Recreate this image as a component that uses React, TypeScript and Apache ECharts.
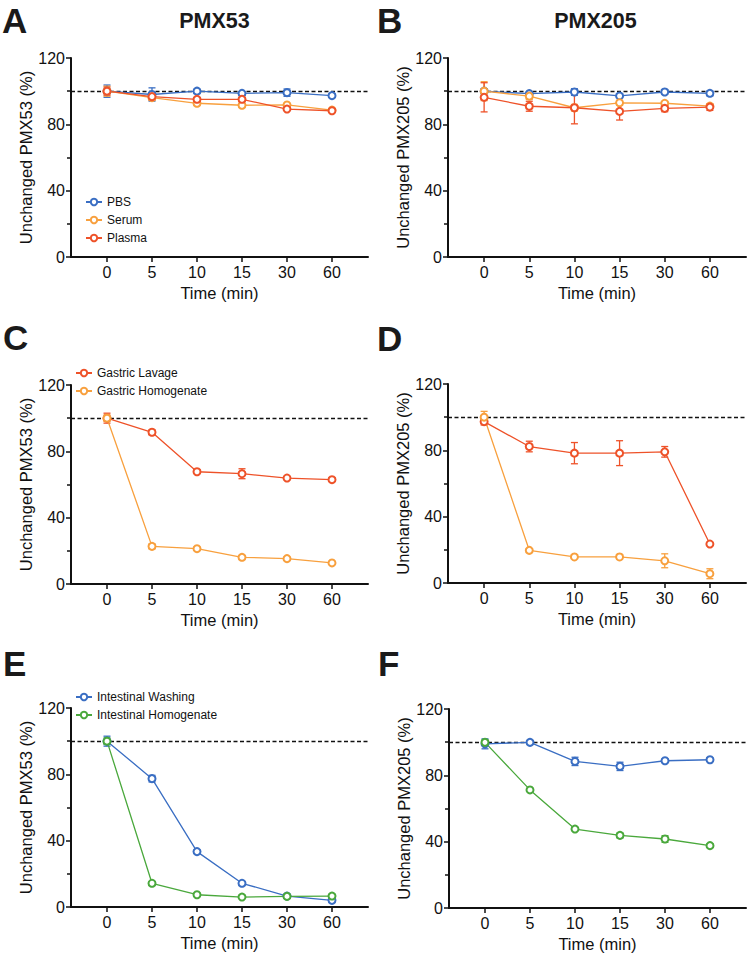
import React, { useEffect, useRef } from "react";
import * as echarts from "echarts";

// ---------- data ----------
const timeLabels = ["0", "5", "10", "15", "30", "60"];
const xIdx = [0, 1, 2, 3, 4, 5];

// Panel A: PMX53 in PBS / serum / plasma
const aPBS = [100, 98, 100, 98.7, 99.1, 97.3];
const aPBSErr = [3.7, 4, 1.2, 0.6, 2.2, 0.6];
const aSerum = [100, 96.1, 92.7, 91.5, 91.7, 88.6];
const aSerumErr = [3, 1.5, 0.6, 0.5, 0.6, 0.6];
const aPlasma = [100, 96.7, 95.1, 95.1, 89.2, 88.2];
const aPlasmaErr = [2.4, 2, 0.6, 0.6, 0.6, 0.6];

// Panel B: PMX205 in PBS / serum / plasma
const bPBS = [100, 98.5, 99.5, 97.1, 99.5, 98.7];
const bPBSErr = [1.5, 1, 2, 0.5, 1.5, 1.5];
const bSerum = [100, 97, 90, 93, 92.7, 91];
const bSerumErr = [5.7, 2, 2, 1.5, 1, 1];
const bPlasma = [96.3, 90.9, 90, 87.8, 89.6, 90.4];
const bPlasmaErr = [8.8, 3, 9.7, 5.2, 2, 2];

// Panel C: PMX53 gastric
const cLavage = [100, 91.5, 67.7, 66.5, 63.9, 62.9];
const cLavageErr = [3, 1.5, 1, 3, 1, 0.8];
const cHomog = [100, 22.7, 21.3, 16.1, 15.3, 12.7];
const cHomogErr = [2, 1.5, 0.8, 0.5, 0.5, 0.5];

// Panel D: PMX205 gastric
const dLavage = [97.3, 82.3, 78.3, 78.3, 79.1, 23.5];
const dLavageErr = [2, 3.2, 6.4, 7.5, 3.2, 1];
const dHomog = [100, 19.7, 15.7, 15.7, 13.4, 5.6];
const dHomogErr = [3.5, 1, 0.8, 1.5, 4.2, 3];

// Panel E: PMX53 intestinal
const eWashing = [100, 77.4, 33.4, 14.3, 6.6, 4];
const eWashingErr = [3, 2, 1, 0.8, 0.5, 0.5];
const eHomog = [100, 14.3, 7.4, 6, 6.4, 6.6];
const eHomogErr = [2, 1, 0.5, 0.5, 0.5, 0.5];

// Panel F: PMX205 intestinal
const fWashing = [99, 99.9, 88.4, 85.4, 88.8, 89.4];
const fWashingErr = [3, 0.5, 2.5, 2.5, 1, 0.8];
const fHomog = [99.9, 71.2, 47.6, 43.8, 41.6, 37.6];
const fHomogErr = [1.5, 0.8, 1, 1.5, 2, 1];

const baseline = 100;

// ---------- styles ----------
const BLUE = "#3a6ec3";
const ORANGE = "#f8a03e";
const RED = "#ee5229";
const GREEN = "#4aa83c";
const INK = "#111111";
const FONT = '"Liberation Sans", Arial, Helvetica, sans-serif';

type S = { name: string; color: string; values: number[]; err: number[] };
type P = {
  letter: string;
  yName: string;
  series: S[];
  legend: string[];
  layout: { left: number; top: number; width: number; height: number; letterX: number; letterY: number; legendLeft: number; legendTop: number };
};

const panels: P[] = [
  {
    letter: "A",
    yName: "Unchanged PMX53 (%)",
    series: [
      { name: "PBS", color: BLUE, values: aPBS, err: aPBSErr },
      { name: "Serum", color: ORANGE, values: aSerum, err: aSerumErr },
      { name: "Plasma", color: RED, values: aPlasma, err: aPlasmaErr },
    ],
    legend: ["PBS", "Serum", "Plasma"],
    layout: { left: 71, top: 58, width: 297, height: 199, letterX: 2, letterY: 3, legendLeft: 85, legendTop: 196 },
  },
  {
    letter: "B",
    yName: "Unchanged PMX205 (%)",
    series: [
      { name: "PBS", color: BLUE, values: bPBS, err: bPBSErr },
      { name: "Serum", color: ORANGE, values: bSerum, err: bSerumErr },
      { name: "Plasma", color: RED, values: bPlasma, err: bPlasmaErr },
    ],
    legend: [],
    layout: { left: 448, top: 58, width: 298, height: 199, letterX: 377, letterY: 3, legendLeft: 0, legendTop: 0 },
  },
  {
    letter: "C",
    yName: "Unchanged PMX53 (%)",
    series: [
      { name: "Gastric Lavage", color: RED, values: cLavage, err: cLavageErr },
      { name: "Gastric Homogenate", color: ORANGE, values: cHomog, err: cHomogErr },
    ],
    legend: ["Gastric Lavage", "Gastric Homogenate"],
    layout: { left: 71, top: 385, width: 297, height: 199, letterX: 3, letterY: 320, legendLeft: 75, legendTop: 367 },
  },
  {
    letter: "D",
    yName: "Unchanged PMX205 (%)",
    series: [
      { name: "Gastric Lavage", color: RED, values: dLavage, err: dLavageErr },
      { name: "Gastric Homogenate", color: ORANGE, values: dHomog, err: dHomogErr },
    ],
    legend: [],
    layout: { left: 448, top: 384, width: 298, height: 199, letterX: 377, letterY: 321, legendLeft: 0, legendTop: 0 },
  },
  {
    letter: "E",
    yName: "Unchanged PMX53 (%)",
    series: [
      { name: "Intestinal Washing", color: BLUE, values: eWashing, err: eWashingErr },
      { name: "Intestinal Homogenate", color: GREEN, values: eHomog, err: eHomogErr },
    ],
    legend: ["Intestinal Washing", "Intestinal Homogenate"],
    layout: { left: 71, top: 708, width: 297, height: 199, letterX: 3, letterY: 646, legendLeft: 75, legendTop: 691 },
  },
  {
    letter: "F",
    yName: "Unchanged PMX205 (%)",
    series: [
      { name: "Intestinal Washing", color: BLUE, values: fWashing, err: fWashingErr },
      { name: "Intestinal Homogenate", color: GREEN, values: fHomog, err: fHomogErr },
    ],
    legend: [],
    layout: { left: 449, top: 709, width: 297, height: 199, letterX: 378, letterY: 646, legendLeft: 0, legendTop: 0 },
  },
];

const columnTitles = [
  { text: "PMX53", x: 214.5, y: 21 },
  { text: "PMX205", x: 595.5, y: 21 },
];

function errorRender(params: any, api: any) {
  const x = api.value(0);
  const lo = api.value(1);
  const hi = api.value(2);
  const top = api.coord([x, hi]);
  const bot = api.coord([x, lo]);
  const c = api.visual("color");
  const hw = 3.5;
  const st = { stroke: c, lineWidth: 1.3 };
  return {
    type: "group",
    children: [
      { type: "line", shape: { x1: top[0], y1: top[1], x2: bot[0], y2: bot[1] }, style: st },
      { type: "line", shape: { x1: top[0] - hw, y1: top[1], x2: top[0] + hw, y2: top[1] }, style: st },
      { type: "line", shape: { x1: bot[0] - hw, y1: bot[1], x2: bot[0] + hw, y2: bot[1] }, style: st },
    ],
  };
}

function buildOption() {
  const grid: any[] = [];
  const xAxis: any[] = [];
  const yAxis: any[] = [];
  const series: any[] = [];
  const legend: any[] = [];
  const graphic: any[] = [];

  panels.forEach((p, i) => {
    const L = p.layout;
    grid.push({ left: L.left, top: L.top, width: L.width, height: L.height });
    xAxis.push({
      type: "value",
      gridIndex: i,
      min: -0.8,
      max: 5.8,
      splitLine: { show: false },
      axisLine: { show: true, onZero: false, lineStyle: { color: INK, width: 2 } },
      axisTick: { show: true, customValues: xIdx, length: 5, lineStyle: { color: INK, width: 1.5 } },
      axisLabel: {
        customValues: xIdx,
        formatter: (v: number) => timeLabels[Math.round(v)],
        color: INK,
        fontSize: 16,
        fontFamily: FONT,
        margin: 7,
      },
      name: "Time (min)",
      nameLocation: "middle",
      nameGap: 27,
      nameTextStyle: { color: INK, fontSize: 16.5, fontFamily: FONT },
    });
    yAxis.push({
      type: "value",
      gridIndex: i,
      min: 0,
      max: 120,
      interval: 40,
      splitLine: { show: false },
      axisLine: { show: true, onZero: false, lineStyle: { color: INK, width: 2 } },
      axisTick: { show: true, length: 5, lineStyle: { color: INK, width: 1.5 } },
      minorTick: { show: true, splitNumber: 2, length: 4, lineStyle: { color: INK, width: 1.5 } },
      minorSplitLine: { show: false },
      axisLabel: { color: INK, fontSize: 16, fontFamily: FONT, margin: 6 },
      name: p.yName,
      nameLocation: "middle",
      nameGap: 35,
      nameTextStyle: { color: INK, fontSize: 16.5, fontFamily: FONT },
    });

    p.series.forEach((s, k) => {
      series.push({
        type: "custom",
        xAxisIndex: i,
        yAxisIndex: i,
        silent: true,
        z: 2,
        itemStyle: { color: s.color },
        encode: { x: 0, y: [1, 2] },
        renderItem: errorRender,
        data: xIdx.map((j) => [j, s.values[j] - s.err[j], s.values[j] + s.err[j]]),
      });
      series.push({
        type: "line",
        name: s.name,
        xAxisIndex: i,
        yAxisIndex: i,
        z: 3,
        color: s.color,
        symbol: "emptyCircle",
        symbolSize: 7,
        lineStyle: { width: 1.3, color: s.color },
        itemStyle: { borderWidth: 1.4, color: s.color },
        data: xIdx.map((j) => [j, s.values[j]]),
        markLine:
          k === 0
            ? {
                silent: true,
                symbol: ["none", "none"],
                label: { show: false },
                lineStyle: { color: INK, type: [4, 2.5], width: 1.3 },
                data: [{ yAxis: baseline }],
                z: 1,
              }
            : undefined,
      });
    });

    if (p.legend.length) {
      legend.push({
        show: true,
        orient: "vertical",
        left: L.legendLeft,
        top: L.legendTop,
        padding: 0,
        itemWidth: 16,
        itemHeight: 8,
        itemGap: 6,
        selectedMode: false,
        data: p.legend,
        textStyle: { fontSize: 12, fontFamily: FONT, color: INK, lineHeight: 12 },
      });
    }

    graphic.push({
      type: "text",
      x: L.letterX,
      y: L.letterY,
      silent: true,
      style: {
        text: p.letter,
        fontSize: 35,
        fontWeight: "bold",
        fontFamily: FONT,
        fill: "#1a1a1a",
        align: "left",
        verticalAlign: "top",
      },
    });
  });

  columnTitles.forEach((t) => {
    graphic.push({
      type: "text",
      x: t.x,
      y: t.y,
      silent: true,
      style: {
        text: t.text,
        fontSize: 21.5,
        fontWeight: "bold",
        fontFamily: FONT,
        fill: "#1a1a1a",
        align: "center",
        verticalAlign: "middle",
      },
    });
  });

  return {
    animation: false,
    backgroundColor: "#ffffff",
    textStyle: { fontFamily: FONT },
    grid,
    xAxis,
    yAxis,
    series,
    legend,
    graphic,
  };
}

export default function App() {
  const ref = useRef<HTMLDivElement>(null);
  useEffect(() => {
    if (!ref.current) return;
    const chart = echarts.init(ref.current, undefined, { renderer: "svg" });
    chart.setOption(buildOption() as any);
    return () => chart.dispose();
  }, []);
  return (
    <div
      ref={ref}
      style={{ position: "absolute", left: 0, top: 0, width: 750, height: 956, background: "#fff" }}
    />
  );
}
